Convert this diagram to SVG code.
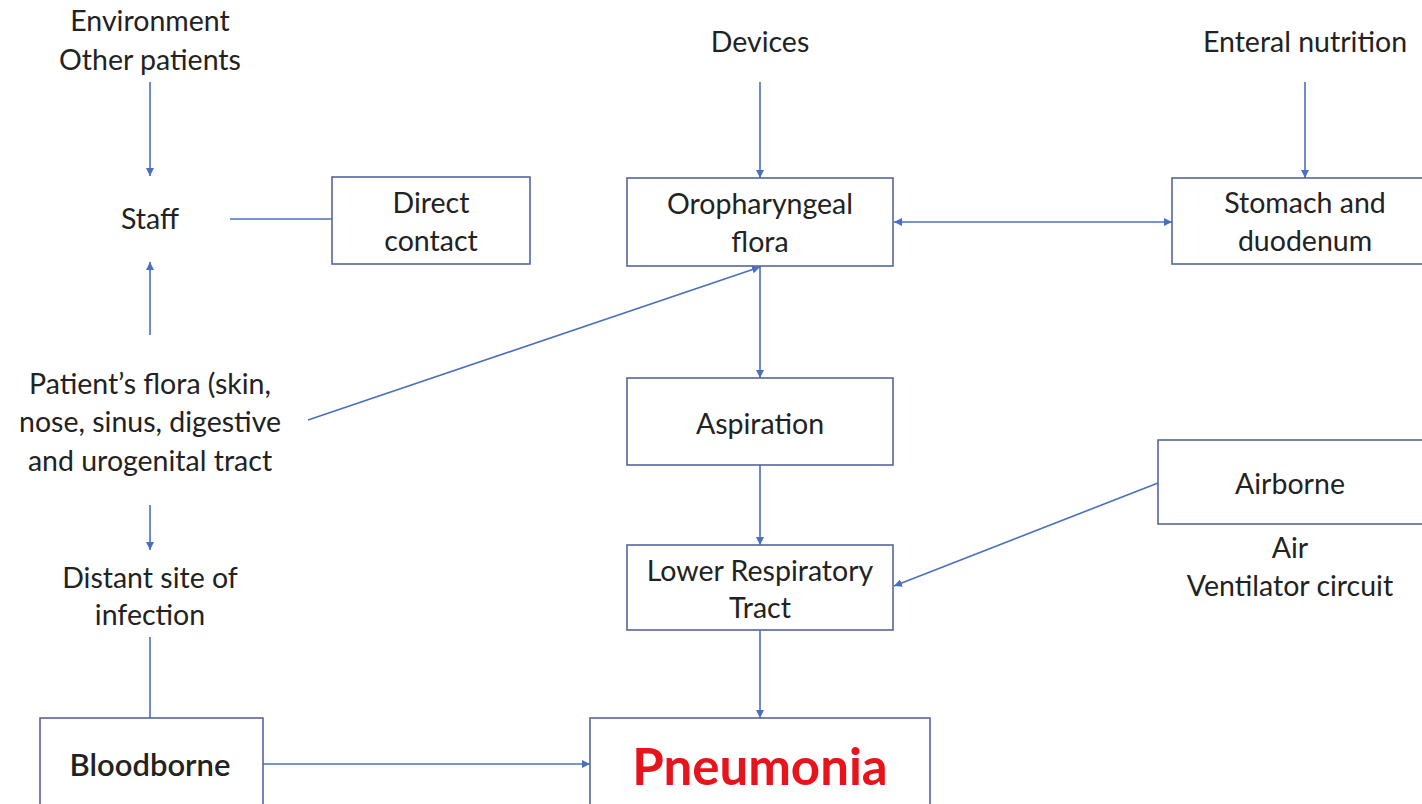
<svg xmlns="http://www.w3.org/2000/svg" width="1422" height="804" viewBox="0 0 1422 804">
<style>
  .t { font-family: "Lato", "Open Sans", "Liberation Sans", sans-serif; font-size: 28.5px; fill: #222; text-anchor: middle; dominant-baseline: central; }
  .box { fill: #fff; stroke: #55669a; stroke-width: 1.6; }
  .c { stroke: #4a6fc0; stroke-width: 1.6; fill: none; }
  .b { font-weight: 600; font-size: 31px; }
</style>
<defs>
  <marker id="ah" viewBox="0 0 10 10" refX="10" refY="5" markerWidth="8" markerHeight="8" markerUnits="userSpaceOnUse" orient="auto-start-reverse">
    <path d="M0,0 L10,5 L0,10 z" fill="#4a6fc0"/>
  </marker>
</defs>
<rect width="1422" height="804" fill="#fff"/>
<g id="connectors">
  <line class="c" x1="150" y1="82" x2="150" y2="176" marker-end="url(#ah)"/>
  <line class="c" x1="230" y1="219" x2="332" y2="219"/>
  <line class="c" x1="150" y1="335" x2="150" y2="262" marker-end="url(#ah)"/>
  <line class="c" x1="308" y1="420" x2="760" y2="267" marker-end="url(#ah)"/>
  <line class="c" x1="760" y1="82" x2="760" y2="178" marker-end="url(#ah)"/>
  <line class="c" x1="894" y1="222" x2="1172" y2="222" marker-start="url(#ah)" marker-end="url(#ah)"/>
  <line class="c" x1="1305" y1="82" x2="1305" y2="178" marker-end="url(#ah)"/>
  <line class="c" x1="760" y1="266" x2="760" y2="378" marker-end="url(#ah)"/>
  <line class="c" x1="760" y1="465" x2="760" y2="545" marker-end="url(#ah)"/>
  <line class="c" x1="1158" y1="483" x2="894" y2="586" marker-end="url(#ah)"/>
  <line class="c" x1="760" y1="630" x2="760" y2="718" marker-end="url(#ah)"/>
  <line class="c" x1="150" y1="505" x2="150" y2="550" marker-end="url(#ah)"/>
  <line class="c" x1="150" y1="637" x2="150" y2="718"/>
  <line class="c" x1="263" y1="764" x2="590" y2="764" marker-end="url(#ah)"/>
</g>
<g id="environment">
  <text class="t" x="150" y="20">Environment</text>
  <text class="t" x="150" y="59">Other patients</text>
</g>
<g id="staff">
  <text class="t" x="150" y="218">Staff</text>
</g>
<g id="direct-contact">
  <rect class="box" x="332" y="177" width="198" height="87"/>
  <text class="t" x="431" y="202">Direct</text>
  <text class="t" x="431" y="240">contact</text>
</g>
<g id="patients-flora">
  <text class="t" x="150" y="383">Patient’s flora (skin,</text>
  <text class="t" x="150" y="421">nose, sinus, digestive</text>
  <text class="t" x="150" y="460">and urogenital tract</text>
</g>
<g id="distant-site">
  <text class="t" x="150" y="577">Distant site of</text>
  <text class="t" x="150" y="614">infection</text>
</g>
<g id="bloodborne">
  <rect class="box" x="40" y="718" width="223" height="100"/>
  <text class="t b" x="150" y="764">Bloodborne</text>
</g>
<g id="devices">
  <text class="t" x="760" y="41">Devices</text>
</g>
<g id="oropharyngeal">
  <rect class="box" x="627" y="178" width="266" height="88"/>
  <text class="t" x="760" y="203">Oropharyngeal</text>
  <text class="t" x="760" y="241">flora</text>
</g>
<g id="enteral">
  <text class="t" x="1305" y="41">Enteral nutrition</text>
</g>
<g id="stomach">
  <rect class="box" x="1172" y="178" width="260" height="86"/>
  <text class="t" x="1305" y="202">Stomach and</text>
  <text class="t" x="1305" y="240">duodenum</text>
</g>
<g id="aspiration">
  <rect class="box" x="627" y="378" width="266" height="87"/>
  <text class="t" x="760" y="423">Aspiration</text>
</g>
<g id="lower-respiratory">
  <rect class="box" x="627" y="545" width="266" height="85"/>
  <text class="t" x="760" y="570">Lower Respiratory</text>
  <text class="t" x="760" y="607">Tract</text>
</g>
<g id="airborne">
  <rect class="box" x="1158" y="440" width="274" height="84"/>
  <text class="t" x="1290" y="483">Airborne</text>
  <text class="t" x="1290" y="547">Air</text>
  <text class="t" x="1290" y="585">Ventilator circuit</text>
</g>
<g id="pneumonia">
  <rect class="box" x="590" y="718" width="340" height="100"/>
  <text class="t" x="760" y="765" style="font-size:51px;font-weight:bold;fill:#e8141c">Pneumonia</text>
</g>
</svg>
